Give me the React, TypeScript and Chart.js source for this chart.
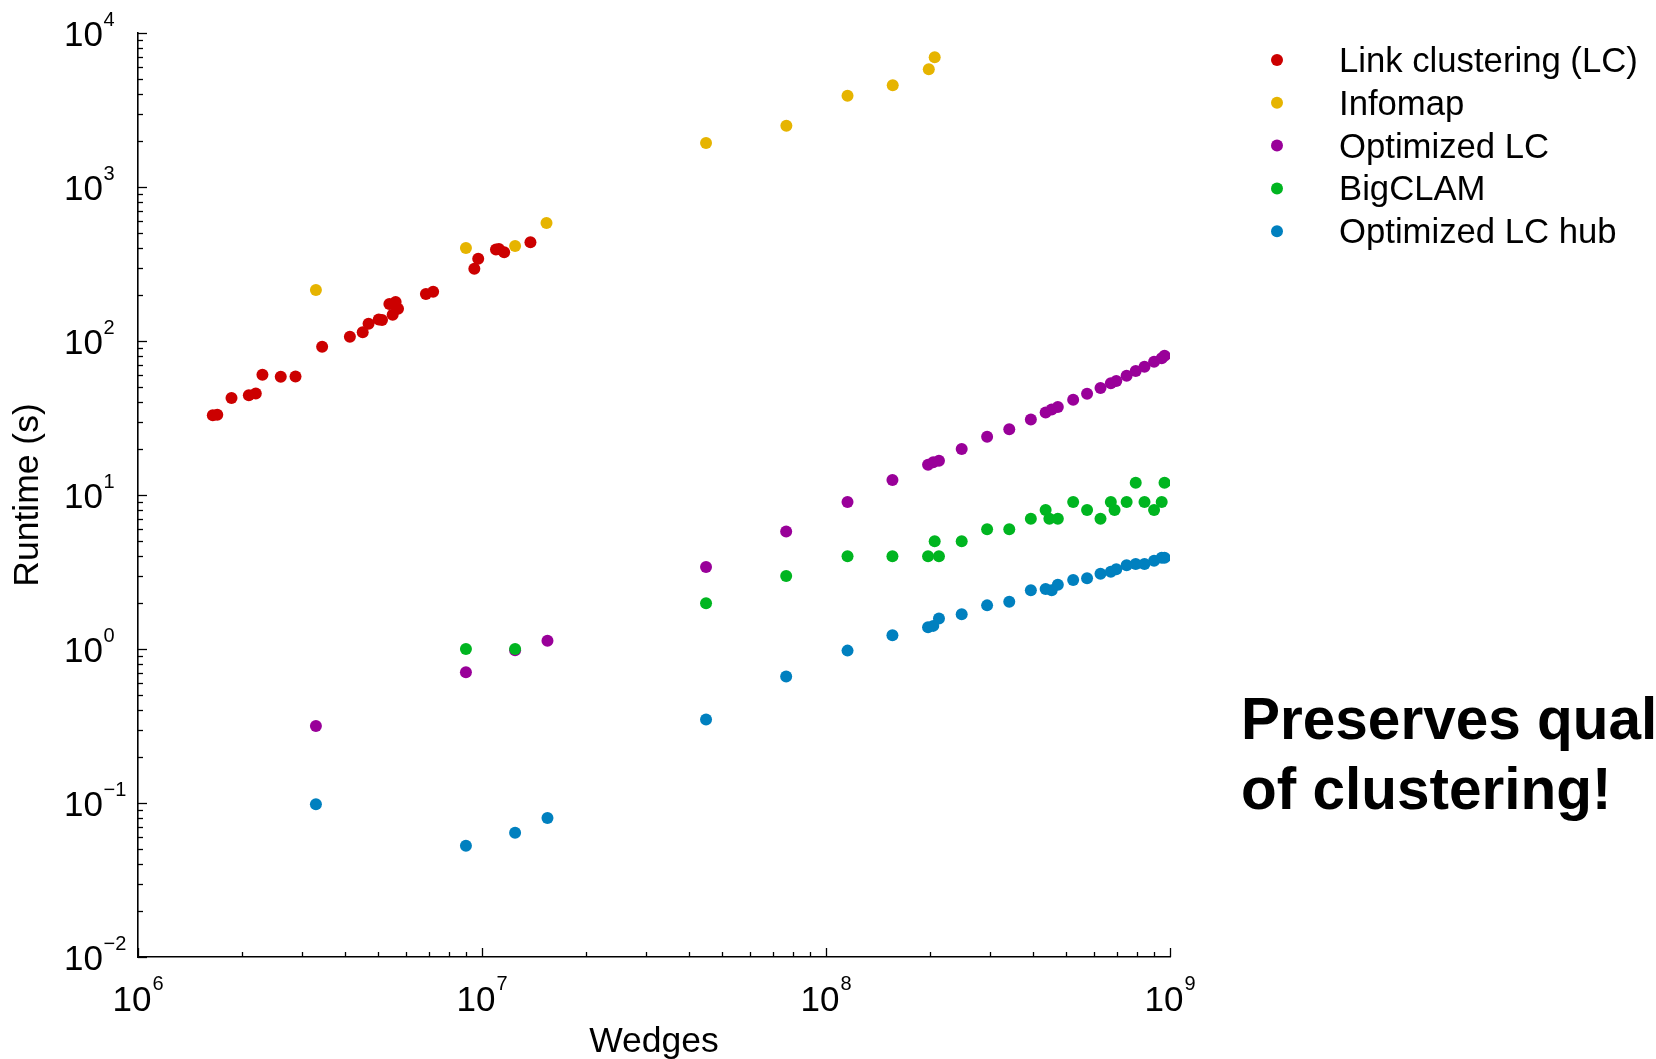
import { useEffect, useRef } from "react";
import { Chart, registerables } from "chart.js";

Chart.register(...registerables);

// ---- Data (Wedges, Runtime in seconds) ----
const seriesNames = ["Link clustering (LC)", "Infomap", "Optimized LC", "BigCLAM", "Optimized LC hub"];
const seriesColors = ["#CC0000", "#E6B400", "#990099", "#00B520", "#0080BF"];

const lcX = [1.65e6, 1.70e6, 1.87e6, 2.10e6, 2.20e6, 2.30e6, 2.60e6, 2.87e6, 3.43e6, 4.13e6, 4.50e6, 4.68e6, 5.01e6, 5.12e6, 5.38e6, 5.61e6, 5.70e6, 5.50e6, 6.87e6, 7.21e6, 9.5e6, 9.75e6, 1.098e7, 1.12e7, 1.16e7, 1.383e7];
const lcY = [33, 33.2, 42.6, 44.5, 45.6, 60.4, 58.6, 58.8, 91.8, 106.7, 113.9, 129.5, 138, 137, 174, 179, 162, 148, 202, 209, 295, 342, 393, 396, 377, 438];

const infomapX = [3.29e6, 8.98e6, 1.248e7, 1.54e7, 4.48e7, 7.67e7, 1.155e8, 1.563e8, 1.99e8, 2.07e8];
const infomapY = [214, 402, 414, 583, 1931, 2500, 3917, 4572, 5808, 6950];

const optLcX = [3.29e6, 8.98e6, 1.248e7, 1.55e7, 4.48e7, 7.66e7, 1.155e8, 1.56e8, 1.98e8, 2.05e8, 2.13e8, 2.48e8, 2.94e8, 3.41e8, 3.94e8, 4.35e8, 4.53e8, 4.72e8, 5.23e8, 5.74e8, 6.28e8, 6.73e8, 6.98e8, 7.48e8, 7.95e8, 8.43e8, 8.99e8, 9.46e8, 9.64e8];
const optLcY = [0.316, 0.706, 0.98, 1.13, 3.41, 5.8, 9.0, 12.5, 15.7, 16.3, 16.7, 19.9, 23.9, 26.7, 30.9, 34.3, 35.9, 37.3, 41.5, 45.5, 49.5, 53.1, 54.9, 59.5, 63.9, 68, 73.4, 77.3, 80.3];

const bigclamX = [8.98e6, 1.248e7, 4.48e7, 7.66e7, 1.155e8, 1.56e8, 1.98e8, 2.07e8, 2.13e8, 2.48e8, 2.94e8, 3.41e8, 3.94e8, 4.35e8, 4.46e8, 4.72e8, 5.23e8, 5.74e8, 6.28e8, 6.73e8, 6.9e8, 7.48e8, 7.95e8, 8.43e8, 8.99e8, 9.46e8, 9.64e8];
const bigclamY = [1.0, 1.0, 1.98, 2.98, 4.0, 4.0, 4.0, 5.0, 4.0, 5.0, 6.0, 6.0, 7.0, 8.0, 7.0, 7.0, 9.0, 8.0, 7.0, 9.0, 8.0, 9.0, 12.0, 9.0, 8.0, 9.0, 12.0];

const hubX = [3.29e6, 8.98e6, 1.248e7, 1.55e7, 4.48e7, 7.66e7, 1.155e8, 1.56e8, 1.98e8, 2.05e8, 2.13e8, 2.48e8, 2.94e8, 3.41e8, 3.94e8, 4.35e8, 4.53e8, 4.72e8, 5.23e8, 5.74e8, 6.28e8, 6.73e8, 6.98e8, 7.48e8, 7.95e8, 8.43e8, 8.99e8, 9.46e8, 9.64e8];
const hubY = [0.098, 0.0528, 0.064, 0.080, 0.348, 0.662, 0.976, 1.23, 1.386, 1.413, 1.578, 1.68, 1.92, 2.03, 2.41, 2.45, 2.41, 2.61, 2.81, 2.88, 3.08, 3.17, 3.30, 3.50, 3.57, 3.57, 3.74, 3.91, 3.91];

const xExponents = [6, 7, 8, 9];
const yExponents = [-2, -1, 0, 1, 2, 3, 4];
const xTitle = "Wedges";
const yTitle = "Runtime (s)";
const noteLines = ["Preserves quality", "of clustering!"];

const FONT = '"Liberation Sans", Arial, Helvetica, sans-serif';

function expText(e: number) {
  return e < 0 ? "\u2212" + String(-e) : String(e);
}

const decorPlugin = {
  id: "decor",
  afterDraw(chart: any) {
    const { ctx, chartArea, scales } = chart;
    const xs = scales.x;
    const ys = scales.y;
    ctx.save();
    ctx.strokeStyle = "#000";
    ctx.fillStyle = "#000";
    ctx.lineWidth = 1.3;

    // y ticks (inward)
    for (let i = 0; i < yExponents.length; i++) {
      const e = yExponents[i];
      for (let m = 1; m <= 9; m++) {
        if (i === yExponents.length - 1 && m > 1) break;
        const py = Math.round(ys.getPixelForValue(m * Math.pow(10, e))) + 0.5;
        const len = m === 1 ? 9 : 5;
        ctx.beginPath();
        ctx.moveTo(chartArea.left, py);
        ctx.lineTo(chartArea.left + len, py);
        ctx.stroke();
      }
    }
    // x ticks (inward)
    for (let i = 0; i < xExponents.length; i++) {
      const e = xExponents[i];
      for (let m = 1; m <= 9; m++) {
        if (i === xExponents.length - 1 && m > 1) break;
        const px = Math.round(xs.getPixelForValue(m * Math.pow(10, e))) + 0.5;
        const len = m === 1 ? 9 : 5;
        ctx.beginPath();
        ctx.moveTo(px, chartArea.bottom);
        ctx.lineTo(px, chartArea.bottom - len);
        ctx.stroke();
      }
    }

    const baseFont = "35px " + FONT;
    const supFont = "20px " + FONT;

    // y tick labels
    for (const e of yExponents) {
      const py = ys.getPixelForValue(Math.pow(10, e));
      ctx.font = baseFont;
      ctx.textAlign = "right";
      ctx.textBaseline = "alphabetic";
      ctx.fillText("10", 103, py + 13);
      ctx.font = supFont;
      ctx.textAlign = "left";
      ctx.fillText(expText(e), 103.5, py - 7);
    }
    // x tick labels
    for (const e of xExponents) {
      const px = xs.getPixelForValue(Math.pow(10, e));
      ctx.font = baseFont;
      const w1 = ctx.measureText("10").width;
      ctx.font = supFont;
      const w2 = ctx.measureText(expText(e)).width;
      const start = px - (w1 + 1 + w2) / 2;
      ctx.textAlign = "left";
      ctx.textBaseline = "alphabetic";
      ctx.font = baseFont;
      ctx.fillText("10", start, chartArea.bottom + 54);
      ctx.font = supFont;
      ctx.fillText(expText(e), start + w1 + 1, chartArea.bottom + 33);
    }

    // axis titles
    ctx.font = "35.5px " + FONT;
    ctx.textAlign = "center";
    ctx.textBaseline = "alphabetic";
    ctx.fillText(xTitle, (chartArea.left + chartArea.right) / 2, 1052);
    ctx.save();
    ctx.translate(38, (chartArea.top + chartArea.bottom) / 2);
    ctx.rotate(-Math.PI / 2);
    ctx.fillText(yTitle, 0, 0);
    ctx.restore();

    // legend
    const ds = chart.data.datasets;
    for (let i = 0; i < ds.length; i++) {
      const cy = 60 + i * 42.8;
      ctx.beginPath();
      ctx.fillStyle = ds[i].backgroundColor;
      ctx.arc(1277, cy, 6, 0, Math.PI * 2);
      ctx.fill();
      ctx.fillStyle = "#000";
      ctx.font = "34.7px " + FONT;
      ctx.textAlign = "left";
      ctx.textBaseline = "alphabetic";
      ctx.fillText(ds[i].label, 1339, cy + 12);
    }

    // annotation
    ctx.font = "bold 58.5px " + FONT;
    ctx.textAlign = "left";
    ctx.fillStyle = "#000";
    ctx.fillText(noteLines[0], 1241, 739);
    ctx.fillText(noteLines[1], 1241, 809);

    ctx.restore();
  },
};

export default function App() {
  const ref = useRef<HTMLCanvasElement | null>(null);

  useEffect(() => {
    if (!ref.current) return;
    const xsArr = [lcX, infomapX, optLcX, bigclamX, hubX];
    const ysArr = [lcY, infomapY, optLcY, bigclamY, hubY];
    const datasets = seriesNames.map((name, i) => ({
      label: name,
      data: xsArr[i].map((x, j) => ({ x, y: ysArr[i][j] })),
      backgroundColor: seriesColors[i],
      borderColor: seriesColors[i],
      borderWidth: 0,
      pointRadius: 6,
      pointHoverRadius: 6,
      order: seriesNames.length - 1 - i,
    }));

    const chart = new Chart(ref.current, {
      type: "scatter",
      data: { datasets },
      options: {
        responsive: false,
        animation: false,
        devicePixelRatio: 1,
        layout: { padding: { left: 0, right: 486, top: 33, bottom: 0 } },
        plugins: { legend: { display: false }, tooltip: { enabled: false } },
        scales: {
          x: {
            type: "logarithmic",
            position: "bottom",
            min: 1e6,
            max: 1e9,
            grid: { display: false },
            border: { display: true, color: "#000", width: 1.6 },
            ticks: { display: false },
            afterFit: (s: any) => {
              s.height = 102;
            },
          },
          y: {
            type: "logarithmic",
            position: "left",
            min: 1e-2,
            max: 1e4,
            grid: { display: false },
            border: { display: true, color: "#000", width: 1.6 },
            ticks: { display: false },
            afterFit: (s: any) => {
              s.width = 138;
            },
          },
        },
      } as any,
      plugins: [decorPlugin],
    });
    return () => chart.destroy();
  }, []);

  return (
    <div style={{ position: "fixed", left: 0, top: 0, width: 1656, height: 1059, overflow: "hidden", background: "#fff" }}>
      <canvas ref={ref} width={1656} height={1059} style={{ display: "block" }} />
    </div>
  );
}
